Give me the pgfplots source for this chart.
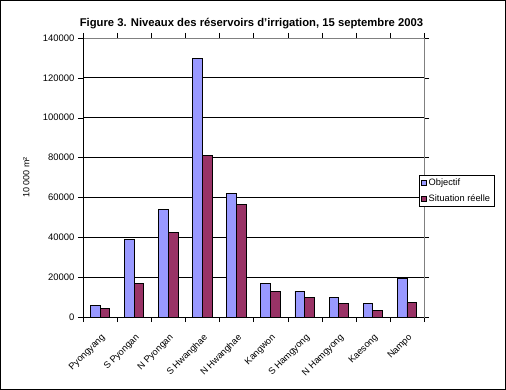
\documentclass[border=0pt]{standalone}
\usepackage{fontspec}
\setmainfont{Liberation Sans}
\usepackage{pgfplots}
\pgfplotsset{compat=1.18}
\definecolor{objc}{HTML}{9999FF}
\definecolor{realc}{HTML}{993366}
\definecolor{framegray}{HTML}{808080}
\begin{document}
\begin{tikzpicture}
\useasboundingbox (0bp,0bp) rectangle (506bp,390bp);
\fill[white] (0bp,0bp) rectangle (506bp,390bp);
\node[font=\fontsize{11.3}{13}\selectfont\bfseries] at (251.5bp,366bp) {Figure 3. Niveaux des réservoirs d'irrigation, 15 septembre 2003};
\begin{axis}[
  at={(83bp,73bp)}, anchor=south west,
  scale only axis, width=341bp, height=279bp,
  xmin=-0.5, xmax=9.5, ymin=0, ymax=140000,
  ybar=0pt, bar width=0.285,
  axis line style={framegray},
  tick align=outside,
  xtick={0,...,9},
  xticklabels={Pyongyang, S Pyongan, N Pyongan, S Hwanghae, N Hwanghae, Kangwon, S Hamgyong, N Hamgyong, Kaesong, Nampo},
  x tick label style={rotate=45, anchor=north east, font=\fontsize{9.3}{11}\selectfont, yshift=-5bp, xshift=-4bp},
  major x tick style={draw=none},
  minor xtick={-0.5,0.5,...,9.5},
  minor x tick style={black},
  minor tick length=5bp,
  major tick length=5bp,
  ytick={0,20000,...,140000},
  y tick style={black},
  y tick label style={font=\fontsize{9.5}{11}\selectfont},
  /pgf/number format/assume math mode=true,
  /pgf/number format/1000 sep={},
  /pgf/number format/fixed,
  scaled y ticks=false,
  ymajorgrids, y grid style={black, line width=0.8bp},
  ylabel={10 000 m²},
  ylabel style={at={(axis description cs:-0.166,0.5)}, anchor=center, font=\fontsize{9}{11}\selectfont},
  legend style={at={(axis description cs:0.985,0.509)}, anchor=north west, draw=black, fill=white,
    font=\fontsize{9.3}{11}\selectfont, inner sep=2bp, row sep=3bp, cells={anchor=west}},
  legend image code/.code={\draw[#1, draw=black, line width=0.6bp] (0bp,-2.5bp) rectangle (5bp,2.5bp);},
  clip=false,
]
\addplot[fill=objc, draw=black, line width=0.8bp] coordinates {
  (0,5900) (1,39000) (2,54000) (3,129800) (4,62000)
  (5,16900) (6,13000) (7,9900) (8,6900) (9,19200)};
\addplot[fill=realc, draw=black, line width=0.8bp] coordinates {
  (0,4400) (1,16900) (2,42500) (3,81100) (4,56500)
  (5,13000) (6,9900) (7,6900) (8,3400) (9,7400)};
\legend{Objectif, Situation réelle}
\draw[black, line width=0.8bp] (axis cs:-0.5,0) -- (axis cs:9.5,0);
\draw[black, line width=0.8bp] (axis cs:-0.5,0) -- (axis cs:-0.5,140000);
\end{axis}
\draw[black, line width=1bp] (0.5bp,0.5bp) rectangle (505.5bp,389.5bp);
\end{tikzpicture}
\end{document}
